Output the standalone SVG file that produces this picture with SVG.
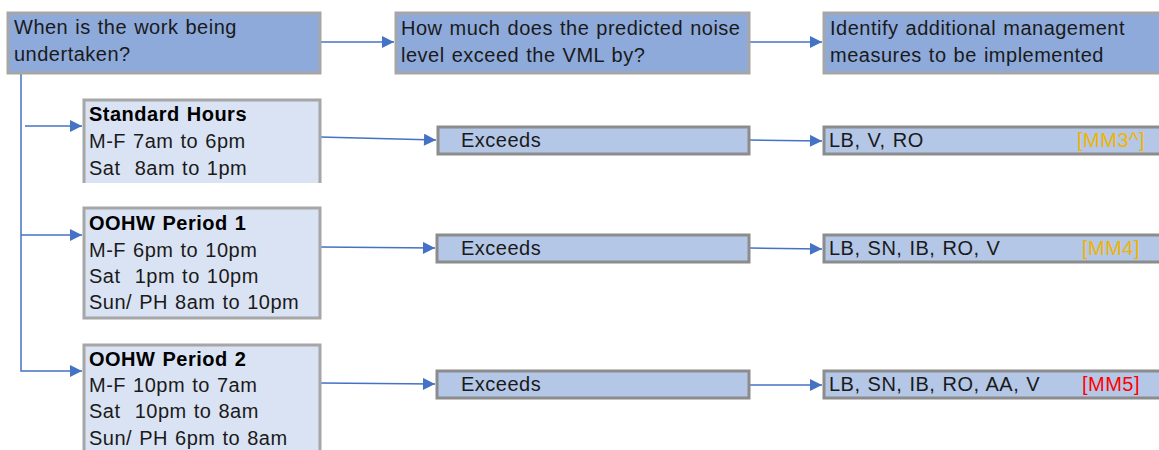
<svg xmlns="http://www.w3.org/2000/svg" width="1159" height="450" viewBox="0 0 1159 450">
<style>
.t{font-family:"Liberation Sans",Arial,sans-serif;font-size:20px;fill:#1a1a1a;letter-spacing:0.5px;word-spacing:1px;white-space:pre}
.b{font-weight:bold;fill:#000}
.dk{fill:#8EAADB;stroke:#A6A6A6;stroke-width:3}
.lt{fill:#DAE3F3;stroke:#A6A6A6;stroke-width:3}
.md{fill:#B4C7E7;stroke:#8C8C8C;stroke-width:3}
.c{fill:none;stroke:#4472C4;stroke-width:1.5}
.amb{fill:#F0B400}
.red{fill:#FF0000}
</style>
<defs>
<marker id="ah" viewBox="0 0 10 10" refX="10" refY="5" markerWidth="13" markerHeight="12" markerUnits="userSpaceOnUse" orient="auto">
<path d="M0,0 L10,5 L0,10 Z" fill="#4472C4"/>
</marker>
</defs>
<g id="connectors">
<path class="c" d="M320,42 L394,42" marker-end="url(#ah)"/>
<path class="c" d="M750,42 L822,42" marker-end="url(#ah)"/>
<path class="c" d="M21,73 L21,371 L82,371" marker-end="url(#ah)"/>
<path class="c" d="M25,126 L82,126" marker-end="url(#ah)"/>
<path class="c" d="M21,235 L82,235" marker-end="url(#ah)"/>
<path class="c" d="M320,137 L436,140" marker-end="url(#ah)"/>
<path class="c" d="M320,247 L435,248" marker-end="url(#ah)"/>
<path class="c" d="M320,383 L435,384" marker-end="url(#ah)"/>
<path class="c" d="M750,140 L822,141" marker-end="url(#ah)"/>
<path class="c" d="M750,248 L822,249" marker-end="url(#ah)"/>
<path class="c" d="M750,385 L822,385" marker-end="url(#ah)"/>
</g>
<g id="q1">
<rect class="dk" x="8" y="13" width="312" height="60"/>
<text class="t" x="14" y="34">When is the work being</text>
<text class="t" x="14" y="61">undertaken?</text>
</g>
<g id="q2">
<rect class="dk" x="396" y="13" width="353" height="60"/>
<text class="t" x="401" y="35">How much does the predicted noise</text>
<text class="t" x="401" y="62">level exceed the VML by?</text>
</g>
<g id="q3">
<rect class="dk" x="824" y="13" width="345" height="60"/>
<text class="t" x="830" y="35">Identify additional management</text>
<text class="t" x="830" y="62">measures to be implemented</text>
</g>
<g id="standard">
<rect x="84" y="100" width="236" height="83" fill="#DAE3F3"/>
<path d="M84,183 L84,100 L320,100 L320,183" fill="none" stroke="#A6A6A6" stroke-width="3"/>
<text class="t b" x="89" y="121">Standard Hours</text>
<text class="t" x="89" y="148">M-F 7am to 6pm</text>
<text class="t" x="89" y="175">Sat  8am to 1pm</text>
</g>
<g id="oohw1">
<rect class="lt" x="84" y="208" width="236" height="110"/>
<text class="t b" x="89" y="230">OOHW Period 1</text>
<text class="t" x="89" y="257">M-F 6pm to 10pm</text>
<text class="t" x="89" y="283">Sat  1pm to 10pm</text>
<text class="t" x="89" y="309">Sun/ PH 8am to 10pm</text>
</g>
<g id="oohw2">
<rect class="lt" x="84" y="345" width="236" height="120"/>
<text class="t b" x="89" y="366">OOHW Period 2</text>
<text class="t" x="89" y="392">M-F 10pm to 7am</text>
<text class="t" x="89" y="418">Sat  10pm to 8am</text>
<text class="t" x="89" y="445">Sun/ PH 6pm to 8am</text>
</g>
<g id="ex1">
<rect class="md" x="438" y="127" width="311" height="27"/>
<text class="t" x="461" y="147">Exceeds</text>
</g>
<g id="ex2">
<rect class="md" x="437" y="235" width="312" height="27"/>
<text class="t" x="461" y="255">Exceeds</text>
</g>
<g id="ex3">
<rect class="md" x="437" y="371" width="312" height="27"/>
<text class="t" x="461" y="391">Exceeds</text>
</g>
<g id="m1">
<rect class="md" x="824" y="127" width="345" height="27"/>
<text class="t" x="829" y="147">LB, V, RO</text>
<text class="t amb" x="1145" y="147" text-anchor="end">[MM3^]</text>
</g>
<g id="m2">
<rect class="md" x="824" y="235" width="345" height="27"/>
<text class="t" x="829" y="255">LB, SN, IB, RO, V</text>
<text class="t amb" x="1140" y="255" text-anchor="end">[MM4]</text>
</g>
<g id="m3">
<rect class="md" x="824" y="371" width="345" height="27"/>
<text class="t" x="829" y="391">LB, SN, IB, RO, AA, V</text>
<text class="t red" x="1140" y="391" text-anchor="end">[MM5]</text>
</g>
</svg>
